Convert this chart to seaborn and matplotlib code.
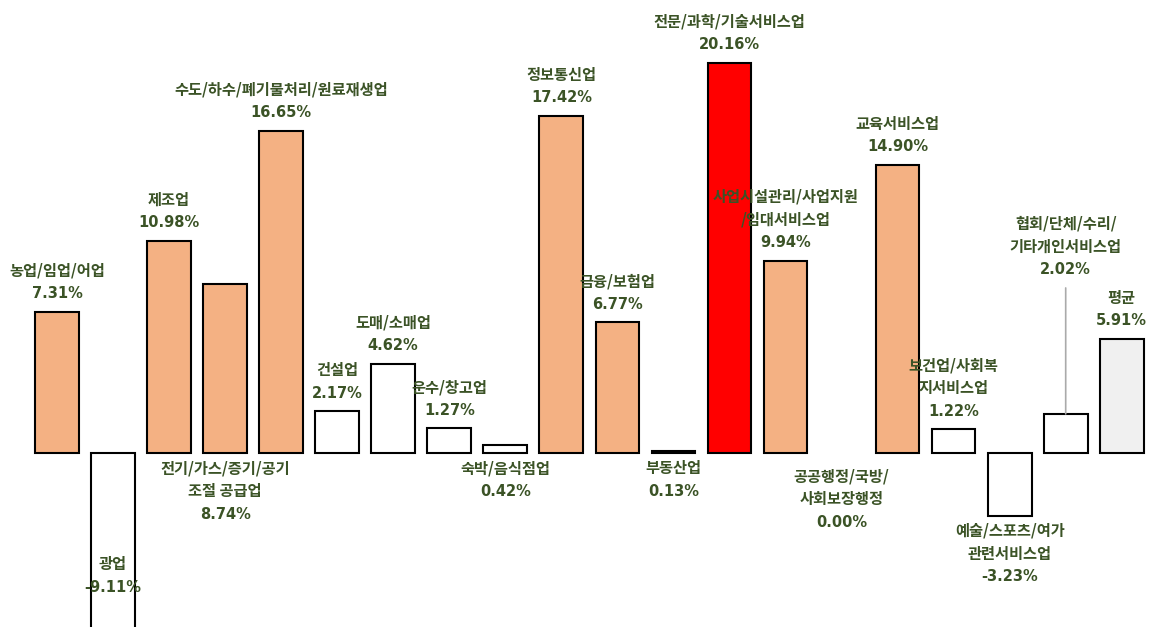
import matplotlib
matplotlib.use("Agg")
import matplotlib.pyplot as plt
import seaborn as sns
import pandas as pd

# Year-on-year change by industry (%)
industries = [
    "농업/임업/어업",
    "광업",
    "제조업",
    "전기/가스/증기/공기\n조절 공급업",
    "수도/하수/폐기물처리/원료재생업",
    "건설업",
    "도매/소매업",
    "운수/창고업",
    "숙박/음식점업",
    "정보통신업",
    "금융/보험업",
    "부동산업",
    "전문/과학/기술서비스업",
    "사업시설관리/사업지원\n/임대서비스업",
    "공공행정/국방/\n사회보장행정",
    "교육서비스업",
    "보건업/사회복\n지서비스업",
    "예술/스포츠/여가\n관련서비스업",
    "협회/단체/수리/\n기타개인서비스업",
    "평균",
]
growth = [7.31, -9.11, 10.98, 8.74, 16.65, 2.17, 4.62, 1.27, 0.42, 17.42,
          6.77, 0.13, 20.16, 9.94, 0.00, 14.90, 1.22, -3.23, 2.02, 5.91]
average_label = "평균"

ORANGE = "#F4B183"
RED = "#FF0000"
WHITE = "#FFFFFF"
GRAY = "#F0F0F0"
TEXT = "#3B5326"

avg_value = growth[industries.index(average_label)]
top_value = max(growth)


def bar_color(name, v):
    if name == average_label:
        return GRAY
    if v == top_value:
        return RED
    if v > avg_value:
        return ORANGE
    return WHITE


palette = {n: bar_color(n, v) for n, v in zip(industries, growth)}
df = pd.DataFrame({"industry": industries, "growth": growth})

sns.set_theme(style="white")
plt.rcParams["font.family"] = ["Noto Sans CJK KR", "DejaVu Sans"]

fig = plt.figure(figsize=(11.52, 6.27), dpi=100)
ax = fig.add_axes([0, 0, 1, 1])

sns.barplot(data=df, x="industry", y="growth", hue="industry", order=industries,
            palette=palette, saturation=1, legend=False, width=0.78,
            edgecolor="black", linewidth=1.5, ax=ax)

for patch, v in zip(ax.patches, growth):
    if v == 0:
        patch.set_linewidth(0)

ax.set_xlim(-1.017, 19.54)
ax.set_ylim(-8.99, 23.41)
ax.axis("off")

LINE = 23  # pixel step between label lines
name_kw = dict(ha="center", va="center", fontsize=11, fontweight="bold",
               color=TEXT, linespacing=1.0, family=["Noto Sans CJK KR", "DejaVu Sans"],
               textcoords="offset pixels", annotation_clip=False)
value_kw = dict(name_kw, fontsize=10.5, family=["DejaVu Sans"])


def label(i, y, first_dy, step):
    """Stack the name lines and the value line, starting first_dy pixels
    from (i, y) and moving by step pixels per line."""
    lines = industries[i].split("\n")
    dys = [first_dy + k * step for k in range(len(lines) + 1)]
    if step > 0:  # stacking upward: value line is closest to the anchor
        dys = dys[::-1]
    for txt, dy in zip(lines, dys[:-1]):
        ax.annotate(txt, xy=(i, y), xytext=(0, dy), **name_kw)
    ax.annotate(f"{growth[i]:.2f}%", xy=(i, y), xytext=(0, dys[-1]), **value_kw)


below_baseline = {3, 8, 11, 14}
for i, v in enumerate(growth):
    if i in below_baseline:
        label(i, 0, -15 if v else -23, -LINE)
    elif v < ax.get_ylim()[0]:
        # bar runs past the bottom edge: label sits inside it
        label(i, v, 65, -LINE)
    elif v < 0:
        label(i, v, -15, -LINE)
    elif i == 18:
        # raised label with a leader line down to the bar
        label(i, v, 144, LINE)
        ax.annotate("", xy=(i, v), xycoords="data",
                    xytext=(0, 126), textcoords="offset pixels",
                    annotation_clip=False,
                    arrowprops=dict(arrowstyle="-", color="#AAAAAA", lw=1.2,
                                    shrinkA=0, shrinkB=0))
    else:
        label(i, v, 18, LINE)

fig.savefig("out.png", dpi=100)
